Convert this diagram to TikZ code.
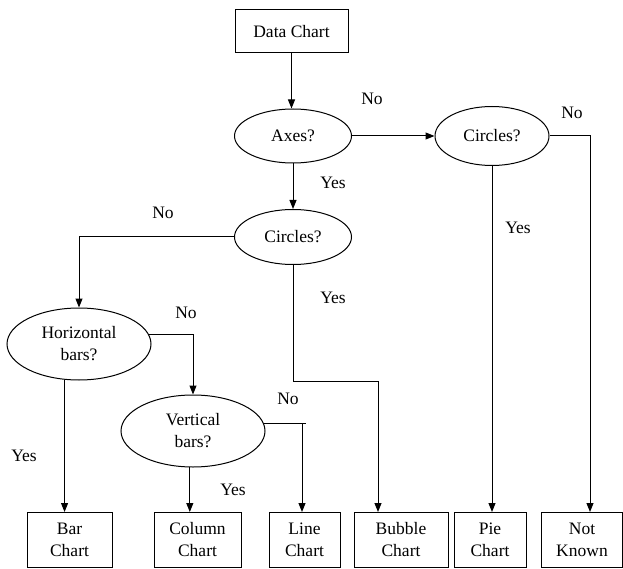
\documentclass[tikz,border=0pt]{standalone}
\usepackage{fontspec}
\setmainfont{Liberation Serif}
\usetikzlibrary{positioning,arrows.meta,shapes.geometric}

\begin{document}
\begin{tikzpicture}[
  x=1pt, y=-1pt,
  every node/.style={font=\fontsize{17.5}{22}\selectfont},
  box/.style={draw, line width=1pt, align=center, inner sep=0pt, minimum height=55pt},
  test/.style={draw, ellipse, line width=1pt, align=center, inner sep=0pt},
  arr/.style={-{Triangle[length=9pt,width=7pt]}, line width=1pt},
  lbl/.style={inner sep=0pt}
]
\useasboundingbox (0,0) rectangle (623,569);
% start
\node[box, minimum width=113pt, minimum height=43pt] (data) at (291.5,31.5) {Data Chart};
% tests
\node[test, minimum width=117pt, minimum height=54pt] (axes) at (293,136) {Axes?};
\node[test, minimum width=114pt, minimum height=59pt] (circlesB) at (492,136) {Circles?};
\node[test, minimum width=117pt, minimum height=55pt] (circlesA) at (293,237) {Circles?};
\node[test, minimum width=144pt, minimum height=72pt] (hbars) at (79,344) {Horizontal\\bars?};
\node[test, minimum width=144pt, minimum height=72pt] (vbars) at (193,431) {Vertical\\bars?};
% results
\node[box, minimum width=85pt] (bar) at (69.5,540) {Bar\\Chart};
\node[box, minimum width=87pt] (column) at (197.5,540) {Column\\Chart};
\node[box, minimum width=71pt] (line) at (304.5,540) {Line\\Chart};
\node[box, minimum width=94pt] (bubble) at (401,540) {Bubble\\Chart};
\node[box, minimum width=72pt] (pie) at (490,540) {Pie\\Chart};
\node[box, minimum width=81pt] (unknown) at (582,540) {Not\\Known};
% turning points
\coordinate (toBubble) at (378,381);
\coordinate (toKnown) at (590,136);
\coordinate (toLine) at (302,0);
% connectors
\draw[arr] (data.south) -- (data.south |- axes.north);
\draw[arr] (axes.east) -- (circlesB.west);
\draw[arr] (axes.south) -- (circlesA.north);
\draw[arr] (circlesB.east) -| (toKnown |- unknown.north);
\draw[arr] (circlesB.south) -- (circlesB.south |- pie.north);
\draw[arr] (circlesA.west) -| (hbars.north);
\draw[arr] (circlesA.south) |- (toBubble) -- (toBubble |- bubble.north);
\draw[arr] (hbars.8) -| (vbars.north);
\draw[arr] (hbars.248) -- (hbars.248 |- bar.north);
\draw[arr] (vbars.265) -- (vbars.265 |- column.north);
\draw (vbars.6) -- ++(42,0);
\draw[arr] (vbars.6 -| toLine) -- (toLine |- line.north);
% labels
\node[lbl] (noAxes) at (372,99) {No};
\node[lbl] (yesAxes) at (333,183) {Yes};
\node[lbl] (noCirclesB) at (572,113) {No};
\node[lbl] (yesCirclesB) at (518,228) {Yes};
\node[lbl] (noCirclesA) at (163,213) {No};
\node[lbl] (yesCirclesA) at (333,298) {Yes};
\node[lbl] (noHbars) at (186,313) {No};
\node[lbl] (yesHbars) at (24,456) {Yes};
\node[lbl] (noVbars) at (288,399) {No};
\node[lbl] (yesVbars) at (233,490) {Yes};
\end{tikzpicture}
\end{document}
